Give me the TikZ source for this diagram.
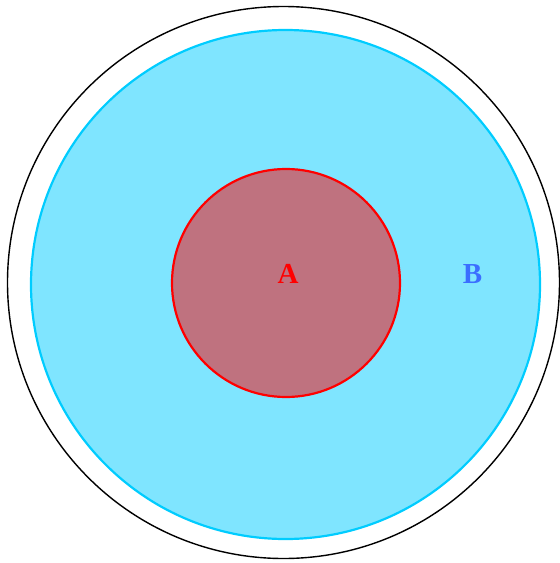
\documentclass[tikz,border=0pt]{standalone}
\usepackage{fontspec}
\setmainfont{Liberation Serif}
\definecolor{outerline}{RGB}{0,0,0}
\definecolor{setB}{RGB}{0,204,255}
\definecolor{setA}{RGB}{255,0,0}
\definecolor{labelB}{RGB}{59,110,255}
\begin{document}
\begin{tikzpicture}[x=1pt,y=-1pt,
  universe/.style={draw=outerline,line width=1.4pt},
  bset/.style={draw=setB,line width=2.2pt,fill=setB,fill opacity=0.5,draw opacity=1},
  aset/.style={draw=setA,line width=2.2pt,fill=setA,fill opacity=0.5,draw opacity=1},
  lbl/.style={font=\bfseries\fontsize{29}{32}\selectfont,inner sep=0pt}]
\useasboundingbox (0,0) rectangle (560,563);
\node[universe,circle,minimum size=552pt,inner sep=0pt] (U) at (283.5,282.5) {};
\node[bset,circle,minimum size=509pt,inner sep=0pt] (B) at (285.5,284.5) {};
\node[aset,circle,minimum size=228pt,inner sep=0pt] (A) at (286,283) {};
\node[lbl,text=setA] (la) at (288,273.5) {A};
\node[lbl,text=labelB] (lb) at (472.5,274.3) {B};
\end{tikzpicture}
\end{document}
